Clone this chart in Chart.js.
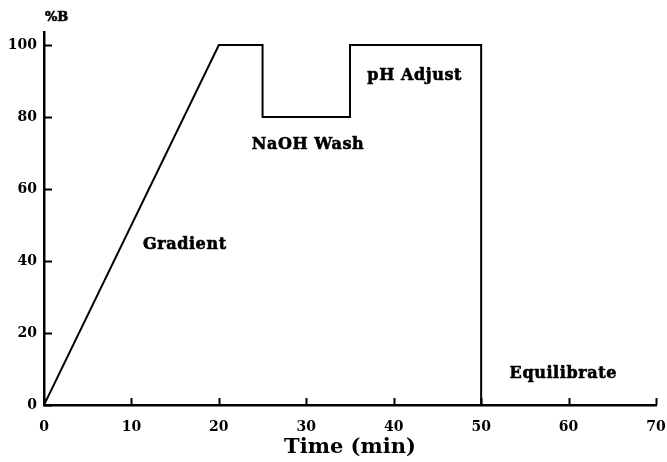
<!DOCTYPE html>
<html>
<head>
<meta charset="utf-8">
<script src="https://cdn.jsdelivr.net/npm/chart.js@4.4.1/dist/chart.umd.min.js"></script>
<style>
  html, body { margin: 0; padding: 0; background: #fff; }
  #wrap { width: 667px; height: 462px; }
</style>
</head>
<body>
<div id="wrap"><canvas id="c" width="667" height="462"></canvas></div>
<script>
// Gradient program: time (min) vs %B
const timeMin = [0, 20, 25, 25, 35, 35, 50, 50];
const percentB = [0, 100, 100, 80, 80, 100, 100, 0];

const xTicks = [0, 10, 20, 30, 40, 50, 60, 70];
const yTicks = [0, 20, 40, 60, 80, 100];

// Step names, placed in data units
const phaseNames = ['Gradient', 'NaOH Wash', 'pH Adjust', 'Equilibrate'];
const phaseX = [16.1, 30.2, 42.4, 59.4];
const phaseY = [44.4, 72.2, 91.4, 8.6];

const FONT = '"DejaVu Serif", serif';

// Short inward tick marks on both axes, plus the unit and step labels
const innerTicks = {
  id: 'innerTicks',
  afterDatasetsDraw(chart) {
    const { ctx, scales: { x, y } } = chart;
    ctx.save();
    ctx.strokeStyle = '#000';
    ctx.lineWidth = 2;
    ctx.beginPath();
    xTicks.forEach(v => {
      const px = Math.round(x.getPixelForValue(v)) + 0.5;
      ctx.moveTo(px, y.bottom);
      ctx.lineTo(px, y.bottom - 7);
    });
    yTicks.forEach(v => {
      const py = Math.round(y.getPixelForValue(v)) + 0.5;
      ctx.moveTo(x.left, py);
      ctx.lineTo(x.left + 8, py);
    });
    ctx.stroke();

    ctx.fillStyle = '#000';
    ctx.strokeStyle = '#000';
    ctx.lineWidth = 0.6;
    ctx.lineJoin = 'round';

    // y-axis unit label
    ctx.font = 'bold 13px ' + FONT;
    ctx.textAlign = 'left';
    ctx.textBaseline = 'middle';
    ctx.fillText('%B', x.left + 1, 18);
    ctx.strokeText('%B', x.left + 1, 18);

    // step names
    ctx.font = 'bold 16px ' + FONT;
    ctx.letterSpacing = '0.6px';
    ctx.textAlign = 'center';
    phaseNames.forEach((t, i) => {
      const px = x.getPixelForValue(phaseX[i]);
      const py = y.getPixelForValue(phaseY[i]);
      ctx.fillText(t, px, py);
      ctx.strokeText(t, px, py);
    });
    ctx.restore();
  }
};

new Chart(document.getElementById('c'), {
  type: 'line',
  data: {
    datasets: [{
      data: timeMin.map((t, i) => ({ x: t, y: percentB[i] })),
      borderColor: '#000',
      borderWidth: 2,
      pointRadius: 0,
      tension: 0,
      fill: false
    }]
  },
  options: {
    responsive: false,
    animation: false,
    layout: { padding: { top: 32, right: 0, left: 0, bottom: 0 } },
    plugins: { legend: { display: false }, tooltip: { enabled: false } },
    scales: {
      x: {
        type: 'linear',
        min: 0, max: 70,
        afterBuildTicks: s => { s.ticks = xTicks.map(v => ({ value: v })); },
        afterFit: s => { s.height = 57; s.paddingRight = 11; s.paddingLeft = 0; },
        border: { display: true, color: '#000', width: 2.5 },
        grid: { display: false, drawTicks: false },
        ticks: { color: '#000', padding: 14, font: { family: FONT, size: 14, weight: 'bold' } },
        title: {
          display: true, text: 'Time (min)', color: '#000',
          font: { family: FONT, size: 21, weight: 'bold' },
          padding: { top: 0, bottom: 2 }
        }
      },
      y: {
        type: 'linear',
        min: 0, max: 103.6,
        afterBuildTicks: s => { s.ticks = yTicks.map(v => ({ value: v })); },
        afterFit: s => { s.width = 44; },
        border: { display: true, color: '#000', width: 2.5 },
        grid: { display: false, drawTicks: false },
        ticks: { color: '#000', padding: 7, font: { family: FONT, size: 14, weight: 'bold' } }
      }
    }
  },
  plugins: [innerTicks]
});
</script>
</body>
</html>
